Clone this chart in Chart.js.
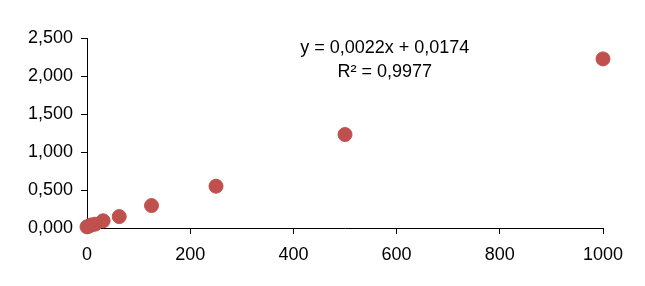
<!DOCTYPE html>
<html>
<head>
<meta charset="utf-8">
<script src="https://cdn.jsdelivr.net/npm/chart.js@4"></script>
<style>
  html, body { margin: 0; padding: 0; background: #fff; }
  #wrap { width: 645px; height: 286px; position: relative; }
</style>
</head>
<body>
<div id="wrap"><canvas id="myChart"></canvas></div>
<script>
const concentrations = [0, 3.9, 7.8, 15.6, 31.25, 62.5, 125, 250, 500, 1000];
const absorbance = [0.015, 0.025, 0.04, 0.05, 0.095, 0.15, 0.295, 0.55, 1.23, 2.225];
const equationLines = ['y = 0,0022x + 0,0174', 'R² = 0,9977'];

const points = concentrations.map(function(x, i) {
    return { x: x, y: absorbance[i] };
});

const fontFamily = '"Liberation Sans", Arial, sans-serif';

// draws the trendline label in the upper middle
const equationLabel = {
    id: 'equationLabel',
    afterDraw: function(chart) {
        var ctx = chart.ctx;
        var area = chart.chartArea;
        ctx.save();
        ctx.font = '18px ' + fontFamily;
        ctx.fillStyle = '#000';
        ctx.textAlign = 'center';
        ctx.textBaseline = 'middle';
        var cx = area.left + (area.right - area.left) * 0.577;
        ctx.fillText(equationLines[0], cx, area.top + 10);
        ctx.fillText(equationLines[1], cx, area.top + 34);
        ctx.restore();
    }
};

const data = {
    datasets: [{
        data: points,
        backgroundColor: '#C0504D',
        borderColor: '#C0504D',
        pointRadius: 7,
        pointHoverRadius: 7,
        clip: false,
    }],
};

const config = {
    type: 'scatter',
    data: data,
    options: {
        responsive: false,
        animation: false,
        layout: {
            padding: { left: 0, right: 42, top: 38, bottom: 0 },
        },
        plugins: {
            legend: { display: false },
            tooltip: { enabled: false },
        },
        scales: {
            x: {
                min: 0,
                max: 1000,
                border: { color: '#000', width: 1 },
                grid: { drawOnChartArea: false, color: '#000', tickLength: 6 },
                afterFit: function(scale) { scale.height = 58; },
                ticks: {
                    stepSize: 200,
                    color: '#000',
                    padding: 10,
                    font: { family: fontFamily, size: 18 },
                    maxRotation: 0,
                    callback: function(value) { return String(value); },
                },
            },
            y: {
                min: 0,
                max: 2.5,
                border: { color: '#000', width: 1 },
                grid: { drawOnChartArea: false, color: '#000', tickLength: 6 },
                afterFit: function(scale) { scale.width = 87; },
                ticks: {
                    stepSize: 0.5,
                    color: '#000',
                    padding: 8,
                    font: { family: fontFamily, size: 18 },
                    callback: function(value) {
                        return value.toFixed(3).replace('.', ',');
                    },
                },
            },
        },
    },
    plugins: [equationLabel],
};

const canvas = document.getElementById('myChart');
canvas.width = 645;
canvas.height = 286;
const myChart = new Chart(canvas, config);
</script>
</body>
</html>
